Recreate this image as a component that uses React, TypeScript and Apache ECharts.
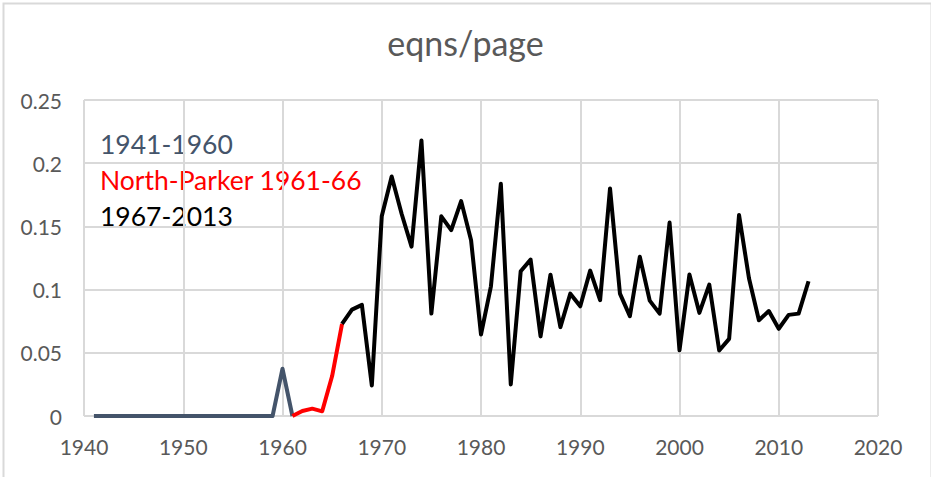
import React, { useEffect, useRef } from "react";
import * as echarts from "echarts";

const years: number[] = [
  1941, 1942, 1943, 1944, 1945, 1946, 1947, 1948, 1949, 1950,
  1951, 1952, 1953, 1954, 1955, 1956, 1957, 1958, 1959, 1960,
  1961, 1962, 1963, 1964, 1965, 1966, 1967, 1968, 1969, 1970,
  1971, 1972, 1973, 1974, 1975, 1976, 1977, 1978, 1979, 1980,
  1981, 1982, 1983, 1984, 1985, 1986, 1987, 1988, 1989, 1990,
  1991, 1992, 1993, 1994, 1995, 1996, 1997, 1998, 1999, 2000,
  2001, 2002, 2003, 2004, 2005, 2006, 2007, 2008, 2009, 2010,
  2011, 2012, 2013,
];

const eqnsPerPage: number[] = [
  0, 0, 0, 0, 0, 0, 0, 0, 0, 0,
  0, 0, 0, 0, 0, 0, 0, 0, 0, 0.0374,
  0, 0.004, 0.0058, 0.0037, 0.0316, 0.0729, 0.0842, 0.0879, 0.0242, 0.158,
  0.1895, 0.16, 0.134, 0.218, 0.081, 0.158, 0.147, 0.17, 0.139, 0.0645,
  0.1026, 0.1837, 0.025, 0.1145, 0.1237, 0.063, 0.1118, 0.0703, 0.0968, 0.0868,
  0.115, 0.0916, 0.18, 0.0968, 0.079, 0.126, 0.0913, 0.081, 0.153, 0.052,
  0.112, 0.0816, 0.104, 0.0518, 0.061, 0.159, 0.109, 0.0758, 0.083, 0.069,
  0.08, 0.081, 0.1066,
];

const periodNames: string[] = ["1941-1960", "North-Parker 1961-66", "1967-2013"];
const periodStart: number[] = [1941, 1961, 1966];
const periodEnd: number[] = [1961, 1966, 2013];
const periodColors: string[] = ["#44546A", "#FF0000", "#000000"];

const xTicks = { min: 1940, max: 2020, interval: 10 };
const yTicks = { min: 0, max: 0.25, interval: 0.05 };

const FONT = "Lato, 'Open Sans', sans-serif";

export default function App() {
  const ref = useRef<HTMLDivElement>(null);

  useEffect(() => {
    if (!ref.current) return;
    const chart = echarts.init(ref.current, undefined, { renderer: "svg" });

    const series = periodNames.map((name, i) => ({
      name,
      type: "line" as const,
      showSymbol: false,
      symbol: "none",
      lineStyle: { color: periodColors[i], width: 4, join: "round" as const },
      itemStyle: { color: periodColors[i] },
      data: years
        .map((y, k) => [y, eqnsPerPage[k]])
        .filter(([y]) => y >= periodStart[i] && y <= periodEnd[i]),
    }));

    chart.setOption({
      animation: false,
      backgroundColor: "#FFFFFF",
      textStyle: { fontFamily: FONT },
      title: {
        text: "eqns/page",
        left: "center",
        top: 20,
        textStyle: { fontFamily: FONT, fontSize: 34, fontWeight: "normal", color: "#595959" },
      },
      grid: { left: 84, right: 53, top: 100, bottom: 61 },
      xAxis: {
        type: "value",
        min: xTicks.min,
        max: xTicks.max,
        interval: xTicks.interval,
        axisLine: { show: false },
        axisTick: { show: false },
        axisLabel: {
          color: "#595959",
          fontSize: 21,
          fontFamily: FONT,
          margin: 20,
          formatter: (v: number) => String(v),
        },
        splitLine: { show: true, lineStyle: { color: "#D9D9D9", width: 2 } },
      },
      yAxis: {
        type: "value",
        min: yTicks.min,
        max: yTicks.max,
        interval: yTicks.interval,
        axisLine: { show: false },
        axisTick: { show: false },
        axisLabel: { color: "#595959", fontSize: 21, fontFamily: FONT, margin: 22 },
        splitLine: { show: true, lineStyle: { color: "#D9D9D9", width: 2 } },
      },
      graphic: [
        {
          type: "rect",
          left: 1,
          top: 1,
          shape: { x: 0, y: 0, width: 928, height: 480 },
          style: { fill: "none", stroke: "#D9D9D9", lineWidth: 2 },
          silent: true,
        },
        ...periodNames.map((name, i) => ({
          type: "text",
          left: 100,
          top: 130 + i * 36,
          style: {
            text: name,
            fill: periodColors[i],
            fontSize: 26.5,
            fontFamily: FONT,
          },
          silent: true,
        })),
      ],
      series,
    });

    return () => chart.dispose();
  }, []);

  return (
    <div
      ref={ref}
      style={{ position: "fixed", left: 0, top: 0, width: 931, height: 477, background: "#fff" }}
    />
  );
}
